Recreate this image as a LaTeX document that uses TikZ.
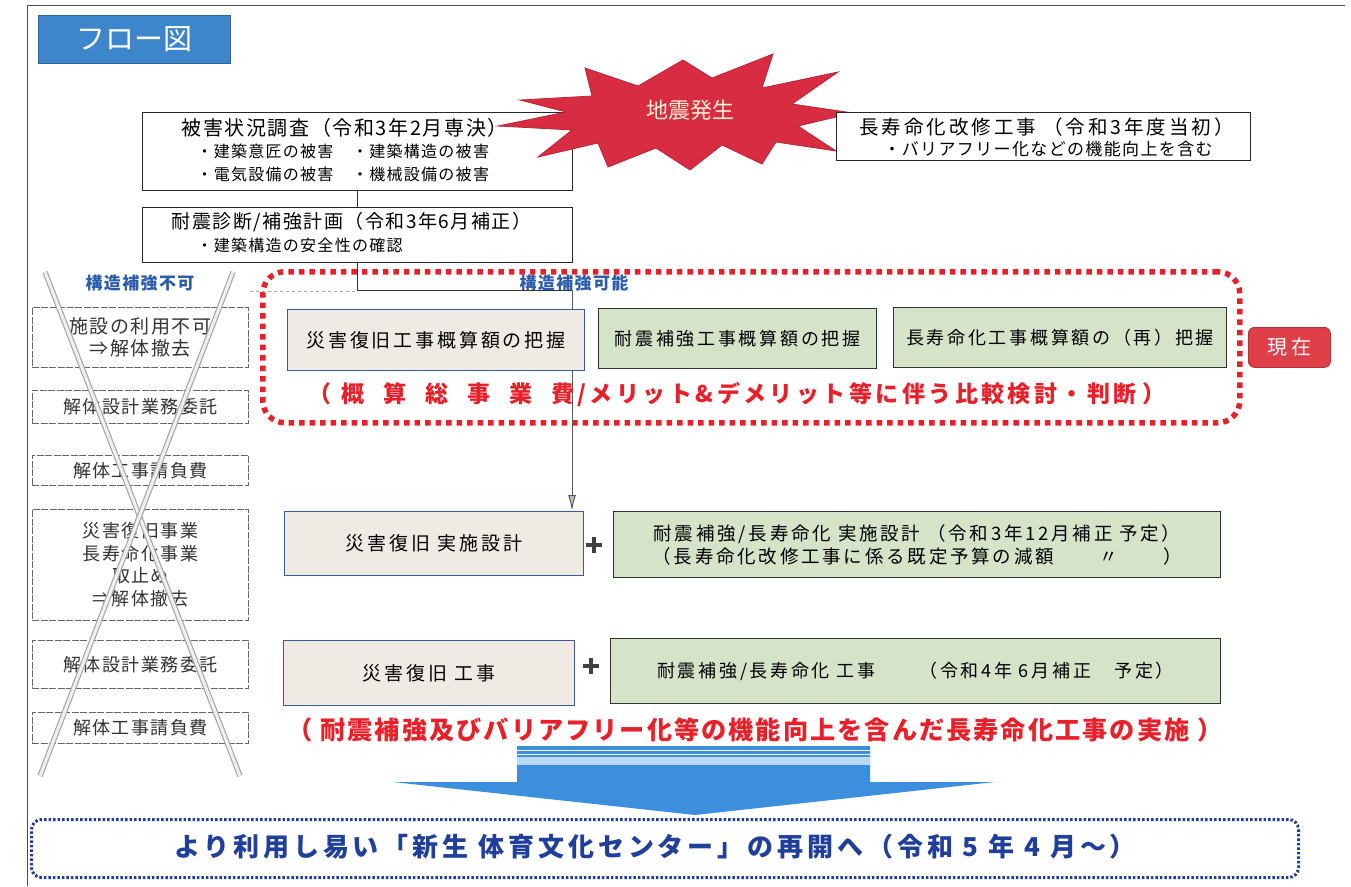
\documentclass[tikz,border=0pt]{standalone}
\usepackage{fontspec}
\setmainfont{Noto Sans CJK JP}
\newfontfamily\jpls[LetterSpace=15]{Noto Sans CJK JP}
\newfontfamily\jplt[LetterSpace=8]{Noto Sans CJK JP}
\usetikzlibrary{arrows.meta}
\newcommand\myfs[2]{\fontsize{#1}{#2}\selectfont}
\definecolor{titleblue}{HTML}{3E86CB}
\definecolor{burstred}{HTML}{D82C42}
\definecolor{bursttext}{HTML}{FFF2D6}
\definecolor{beigefill}{HTML}{EFEBE4}
\definecolor{beigeedge}{HTML}{3C5A96}
\definecolor{greenfill}{HTML}{D5E3C8}
\definecolor{labelblue}{HTML}{2C5DAA}
\definecolor{alertred}{HTML}{E8202A}
\definecolor{nowred}{HTML}{DF3F48}
\definecolor{arrowblue}{HTML}{3B8FDC}
\definecolor{navy}{HTML}{1F3F9A}
\begin{document}
\begin{tikzpicture}[x=1pt,y=-1pt,
  plain/.style={draw=black!85, line width=1pt, fill=white, inner sep=0pt},
  beigebox/.style={draw=beigeedge, line width=1pt, fill=beigefill, inner sep=0pt, font={\jpls\myfs{19}{23}}},
  greenbox/.style={draw=black!80, line width=1.1pt, fill=greenfill, inner sep=0pt, font={\jpls\myfs{18}{23}}, align=center},
  leftbox/.style={draw=black!60, line width=0.9pt, dash pattern=on 7pt off 1.5pt, fill=white, inner sep=0pt, align=center, text=black!80, font={\jplt\myfs{18}{22.5}}},
  bluelabel/.style={text=labelblue, font={\jplt\bfseries\myfs{17}{19}}},
  redtext/.style={text=alertred, font={\jplt\bfseries\myfs{25.2}{27}}},
  conn/.style={draw=black!80, line width=1pt},
  cross/.style={draw=black!35, line width=1.2pt, double=black!6, double distance=3pt},
  reddot/.style={draw=alertred, line width=5.5pt, dash pattern=on 5.5pt off 5pt},
]
\useasboundingbox (0,0) rectangle (1351,886);
% page frame
\draw[black!70, line width=1pt] (27,886) -- (27,5) -- (1345,5);

% title
\node[fill=titleblue, draw=titleblue!75!black, line width=0.8pt, minimum width=192, minimum height=48, anchor=north west, text=white, font={\myfs{29}{31}}] (title) at (38,15) {フロー図};

% survey box
\node[plain, minimum width=430, minimum height=78, anchor=north west] (survey) at (142,112) {};
\node[anchor=west, font={\jplt\myfs{20}{22}}] (surveyt) at (178,128) {被害状況調査（令和3年2月専決）};
\node[anchor=west, font={\jplt\myfs{16}{19}}] (surveya) at (193,151) {・建築意匠の被害　・建築構造の被害};
\node[anchor=west, font={\jplt\myfs{16}{19}}] (surveyb) at (193,174) {・電気設備の被害　・機械設備の被害};

% diagnosis box
\node[plain, minimum width=430, minimum height=55, anchor=north west] (diag) at (142,207) {};
\node[anchor=west, font={\jplt\myfs{19}{22}}] (diagt) at (168,222) {耐震診断/補強計画（令和3年6月補正）};
\node[anchor=west, font={\jplt\myfs{16}{19}}] (diaga) at (193,245) {・建築構造の安全性の確認};
\draw[conn] (survey.south) -- (diag.north);

% earthquake burst
\fill[burstred, draw=burstred!85!black, line width=0.8pt]
  (520,100) -- (592,96) -- (585,68) -- (638,86) -- (683,60) -- (712,78) -- (773,54)
  -- (762,88) -- (838,72) -- (792,104) -- (853,113) -- (798,126) -- (836,151)
  -- (776,142) -- (762,164) -- (722,145) -- (690,170) -- (656,148) -- (608,167)
  -- (598,143) -- (538,157) -- (572,130) -- (498,126) -- (566,112) -- cycle;
\node[text=bursttext, font={\myfs{22}{24}}] (quake) at (690,110) {地震発生};

% long life box
\node[plain, minimum width=414, minimum height=48, anchor=north west] (longlife) at (836,112) {};
\node[anchor=west, font={\jpls\myfs{19.5}{22}}] (longlifet) at (856,127) {長寿命化改修工事 （令和3年度当初）};
\node[anchor=west, font={\jplt\myfs{17}{19}}] (longlifea) at (880,149) {・バリアフリー化などの機能向上を含む};

% labels
\node[bluelabel] (nolabel) at (140,283) {構造補強不可};
\node[bluelabel] (yeslabel) at (574,283) {構造補強可能};

% connectors from diagnosis
\coordinate (fork) at (572,290);
\coordinate (nofork) at (250,291);
\draw[black!35, line width=1pt, dashed] (nofork) -- (diag.south |- nofork);

% red dotted study region
\node[reddot, rounded corners=22pt, minimum width=977, minimum height=151, anchor=north west] (study) at (260,269) {};

% implementation boxes (placed first for arrow)
\node[beigebox, minimum width=299, minimum height=64, anchor=north west] (impl1) at (284,511) {災害復旧 実施設計};
\draw[conn] (diag.south) |- (fork);
\draw[conn, draw=black!65, -{Latex[length=16pt,width=8pt,fill=black!25]}] (fork) -- (fork |- impl1.north);

% study boxes
\node[beigebox, minimum width=297, minimum height=61, anchor=north west] (calc1) at (287,309) {災害復旧工事概算額の把握};
\node[greenbox, minimum width=278, minimum height=60, anchor=north west] (calc2) at (598,308) {耐震補強工事概算額の把握};
\node[greenbox, minimum width=333, minimum height=60, anchor=north west] (calc3) at (893,307) {長寿命化工事概算額の（再）把握};
\node[redtext, font={\jpls\bfseries\myfs{23}{26}}] (studytext) at (737,395) {（\kern10pt 概\kern19pt 算\kern19pt 総\kern19pt 事\kern19pt 業\kern19pt 費/メリット\&デメリット等に伴う比較検討・判断\kern6pt ）};

% now label
\node[fill=nowred, draw=nowred!80!black, line width=0.8pt, rounded corners=6pt, minimum width=82, minimum height=40, text=white, font={\myfs{20}{22}}, anchor=north west] (now) at (1248,327) {現 在};

% implementation row
\draw[line width=4pt, black!75] (586,545) -- (602,545) (594,537) -- (594,553);
\node[greenbox, minimum width=607, minimum height=66, anchor=north west, font={\jpls\myfs{18.5}{23}}] (impl2) at (613,511) {耐震補強/長寿命化 実施設計 （令和3年12月補正 予定）\\（長寿命化改修工事に係る既定予算の減額　　〃　　）};

% construction row
\node[beigebox, minimum width=291, minimum height=65, anchor=north west] (cons1) at (283,640) {災害復旧 工事};
\draw[line width=4pt, black!75] (583,666) -- (599,666) (591,658) -- (591,674);
\node[greenbox, minimum width=610, minimum height=65, anchor=north west, font={\jpls\myfs{18}{23}}] (cons2) at (610,638) {耐震補強/長寿命化 工事　　（令和4年 6月補正　予定）};

\node[redtext] (worktext) at (755,730) {（ 耐震補強及びバリアフリー化等の機能向上を含んだ長寿命化工事の実施 ）};

% left (cancelled) column
\node[leftbox, minimum width=216, minimum height=60, anchor=north west, font={\jplt\myfs{19}{22.5}}] (lb1) at (32,307) {施設の利用不可\\⇒解体撤去};
\node[leftbox, minimum width=216, minimum height=33, anchor=north west] (lb2) at (32,390) {解体設計業務委託};
\node[leftbox, minimum width=216, minimum height=30, anchor=north west] (lb3) at (32,455) {解体工事請負費};
\node[leftbox, minimum width=216, minimum height=111, anchor=north west] (lb4) at (32,509) {災害復旧事業\\長寿命化事業\\取止め\\⇒解体撤去};
\node[leftbox, minimum width=216, minimum height=48, anchor=north west] (lb5) at (32,640) {解体設計業務委託};
\node[leftbox, minimum width=216, minimum height=31, anchor=north west] (lb6) at (32,712) {解体工事請負費};
\draw[cross] (45,272) -- (240,776);
\draw[cross] (233,272) -- (40,776);

% big blue arrow
\fill[arrowblue] (517,746) -- (870,746) -- (870,782) -- (995,782) -- (695,815) -- (393,782) -- (517,782) -- cycle;
\fill[arrowblue!35] (517,757) rectangle (870,765);
\draw[white, line width=1pt] (517,750) -- (870,750) (517,754) -- (870,754);

% final box
\node[draw=navy, line width=3pt, dash pattern=on 2.5pt off 2pt, rounded corners=10pt, minimum width=1267, minimum height=58, anchor=north west] (final) at (30,818) {};
\node[text=navy, font={\jpls\bfseries\myfs{26}{28}}] (finalt) at (655,847) {より利用し易い「新生 体育文化センター」の再開へ（令和 5 年 4 月～）};
\end{tikzpicture}
\end{document}
